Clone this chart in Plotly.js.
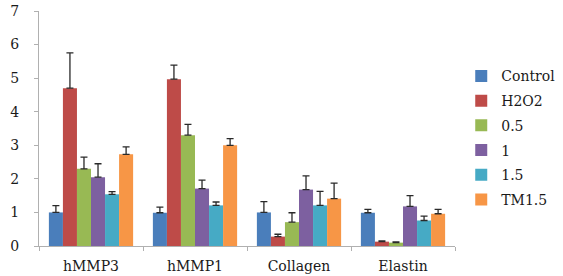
<!DOCTYPE html>
<html>
<head>
<meta charset="utf-8">
<script src="https://cdn.plot.ly/plotly-3.0.1.min.js"></script>
<style>html,body{margin:0;padding:0;background:#fff;}#chart{width:563px;height:276px;}</style>
</head>
<body>
<div id="chart"></div>
<script>
var categories = ["hMMP3", "hMMP1", "Collagen", "Elastin"];
var seriesNames = ["Control", "H2O2", "0.5", "1", "1.5", "TM1.5"];
var control = [1.0, 0.99, 1.0, 0.99];
var h2o2 = [4.7, 4.97, 0.28, 0.13];
var c05 = [2.3, 3.3, 0.71, 0.1];
var c1 = [2.05, 1.71, 1.68, 1.18];
var c15 = [1.54, 1.21, 1.21, 0.76];
var tm15 = [2.73, 3.0, 1.41, 0.96];
var errControl = [0.2, 0.17, 0.32, 0.1];
var errH2o2 = [1.05, 0.42, 0.07, 0.02];
var err05 = [0.35, 0.32, 0.28, 0.02];
var err1 = [0.4, 0.25, 0.41, 0.32];
var err15 = [0.08, 0.1, 0.42, 0.13];
var errTm15 = [0.22, 0.2, 0.46, 0.13];
var yTicks = [0, 1, 2, 3, 4, 5, 6, 7];

var values = [control, h2o2, c05, c1, c15, tm15];
var errs = [errControl, errH2o2, err05, err1, err15, errTm15];
var colors = ["#4a7ebb", "#be4b48", "#98b954", "#7d60a0", "#46aac5", "#f79646"];

var traces = seriesNames.map(function (name, i) {
  return {
    type: "bar",
    name: name,
    legendgroup: "g" + i,
    x: categories,
    y: values[i],
    marker: {color: colors[i], line: {width: 0}},
    error_y: {type: "data", array: errs[i], symmetric: false, arrayminus: [0,0,0,0],
              color: "#2a2a2a", thickness: 1.3, width: 3.5}
  };
});

var serif = "DejaVu Serif";
var layout = {
  width: 563, height: 276,
  margin: {l: 39, r: 108, t: 11, b: 30, pad: 0, autoexpand: false},
  paper_bgcolor: "#fff", plot_bgcolor: "#fff",
  barmode: "group", bargap: 0.19, bargroupgap: 0,
  font: {family: serif, size: 14, color: "#1a1a1a"},
  showlegend: true,
  legend: {x: 1.015, xanchor: "left", xref: "paper", y: 0.79, yanchor: "top",
           font: {family: serif, size: 14, color: "#1a1a1a"},
           tracegroupgap: 3.5, bgcolor: "rgba(0,0,0,0)", itemwidth: 30},
  xaxis: {showline: true, linecolor: "#b0b0b0", linewidth: 1, ticks: "outside",
          tickson: "boundaries", ticklen: 4, tickcolor: "#b0b0b0", ticklabelstandoff: 7,
          tickfont: {family: serif, size: 14, color: "#1a1a1a"}, showgrid: false, zeroline: false},
  yaxis: {range: [0, 7], tickvals: yTicks, showline: true, linecolor: "#b0b0b0", linewidth: 1,
          ticks: "outside", ticklen: 4, tickcolor: "#b0b0b0", showgrid: false, zeroline: false,
          ticklabelstandoff: 12,
          tickfont: {family: serif, size: 14, color: "#1a1a1a"}}
};

Plotly.newPlot("chart", traces, layout, {displayModeBar: false, staticPlot: true});
</script>
</body>
</html>
